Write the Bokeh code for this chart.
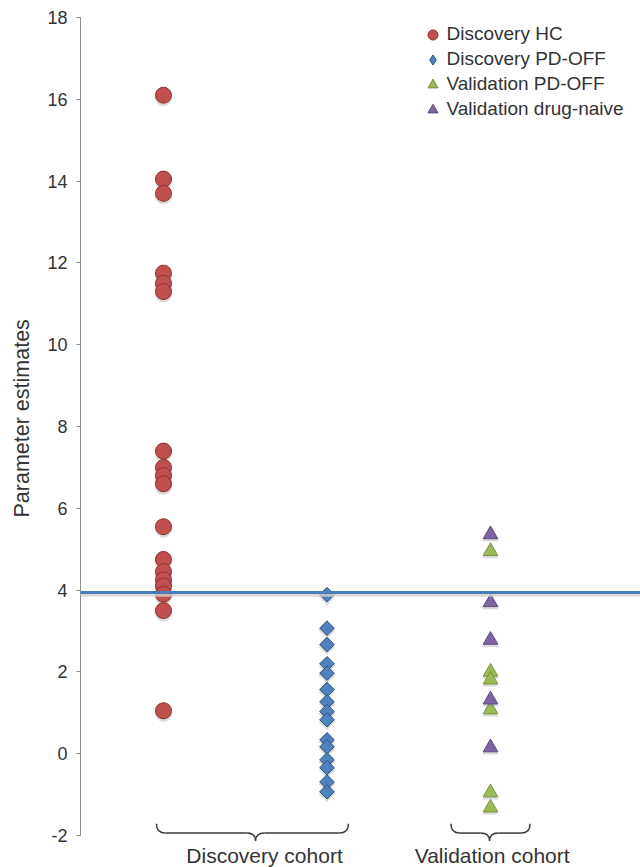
import math
from bokeh.plotting import figure
from bokeh.models import (Range1d, FixedTicker, Span, Title, Legend, LegendItem,
                          ColumnDataSource)
from bokeh.embed import file_html
from bokeh.resources import INLINE
from bokeh.core.properties import value

# ---------------- data ----------------
groups = ["Discovery HC", "Discovery PD-OFF", "Validation PD-OFF", "Validation drug-naive"]
group_x = [1, 2, 3, 3]

discovery_hc = [16.1, 14.05, 13.7, 11.75, 11.5, 11.3, 7.4, 7.0, 6.8, 6.6,
                5.55, 4.75, 4.45, 4.25, 4.1, 3.9, 3.5, 1.05]
discovery_pd_off = [3.89, 3.07, 2.67, 2.2, 1.97, 1.57, 1.27, 1.03, 0.83,
                    0.34, 0.17, -0.15, -0.34, -0.69, -0.93]
validation_pd_off = [4.95, 2.0, 1.81, 1.08, -0.95, -1.32]
validation_naive = [5.36, 3.7, 2.78, 1.32, 0.15]

threshold = 3.94
cohorts = ["Discovery cohort", "Validation cohort"]
y_ticks = [-2, 0, 2, 4, 6, 8, 10, 12, 14, 16, 18]

# ---------------- layout / style ----------------
FONT = "Liberation Sans"
TXT = "#333333"
PX_PER_Y = 40.9          # pixels per y unit
SHADOW_DY = 2.2 / PX_PER_Y

p = figure(width=640, height=867,
           x_range=Range1d(0.4924, 3.9174), y_range=Range1d(-2.782, 18),
           output_backend="svg", toolbar_location=None, x_axis_location=None,
           min_border_left=80, min_border_right=0, min_border_top=17, min_border_bottom=0)
p.outline_line_color = None
p.grid.visible = False
p.background_fill_color = "white"

ax = p.yaxis[0]
ax.ticker = FixedTicker(ticks=y_ticks)
ax.bounds = (min(y_ticks), max(y_ticks))
ax.major_label_overrides = {t: str(t) for t in y_ticks}
ax.axis_line_color = "#8c8c8c"
ax.major_tick_line_color = "#8c8c8c"
ax.major_tick_out = 4
ax.major_tick_in = 0
ax.minor_tick_out = 0
ax.minor_tick_in = 0
ax.major_label_standoff = 9
ax.major_label_text_font = FONT
ax.major_label_text_font_size = "18px"
ax.major_label_text_color = TXT


def src(vals, gx, dy=0.0):
    return ColumnDataSource(dict(x=[gx] * len(vals), y=[v - dy for v in vals]))


series = [
    dict(vals=discovery_hc, gx=group_x[0], marker="circle", size=16, angle=0,
         fill="#c0504d", line="#8a3331"),
    dict(vals=discovery_pd_off, gx=group_x[1], marker="square", size=10.3, angle=math.pi / 4,
         fill="#4f81bd", line="#2c5282"),
    dict(vals=validation_pd_off, gx=group_x[2], marker="triangle", size=14.7, angle=0,
         fill="#9bbb59", line="#76923c"),
    dict(vals=validation_naive, gx=group_x[3], marker="triangle", size=14.7, angle=0,
         fill="#8064a2", line="#5f497a"),
]

main_renderers = []
for s in series:
    # soft drop shadow
    p.scatter(x="x", y="y", source=src(s["vals"], s["gx"], SHADOW_DY), marker=s["marker"],
              size=s["size"] + 1.5, angle=s["angle"], fill_color="#7f7f7f", fill_alpha=0.28,
              line_color=None)
    r = p.scatter(x="x", y="y", source=src(s["vals"], s["gx"]), marker=s["marker"],
                  size=s["size"], angle=s["angle"], fill_color=s["fill"],
                  line_color=s["line"], line_width=1)
    main_renderers.append(r)

# diamond glyph used only for the legend entry
leg_diamond = p.scatter(x="x", y="y", source=src(discovery_pd_off, group_x[1]), marker="diamond",
                        size=10, fill_color="#4f81bd", line_color="#2c5282", line_width=1,
                        visible=False)

# threshold line with shadow
p.add_layout(Span(location=threshold - 2.6 / PX_PER_Y, dimension="width",
                  line_color="#d4d0cc", line_width=3, line_alpha=0.8))
p.add_layout(Span(location=threshold, dimension="width",
                  line_color="#4a7ebb", line_width=3))

# braces under the groups
brace_defs = [(0.957, 2.131, 1.563), (2.758, 3.242, 2.994)]
cohort_label_x = [1.618, 3.01]
b_top, b_mid, b_bot = -1.71, -1.94, -2.13
rx = 0.055
qx0, qy0, qx1, qy1, qcx, qcy = [], [], [], [], [], []
sx0, sy0, sx1, sy1 = [], [], [], []
for L, R, T in brace_defs:
    for (a, b, c, d, e, f) in [
        (L, b_top, L + rx, b_mid, L, b_mid),
        (T - rx, b_mid, T, b_bot, T, b_mid),
        (T, b_bot, T + rx, b_mid, T, b_mid),
        (R - rx, b_mid, R, b_top, R, b_mid),
    ]:
        qx0.append(a); qy0.append(b); qx1.append(c); qy1.append(d); qcx.append(e); qcy.append(f)
    for (a, b) in [(L + rx, T - rx), (T + rx, R - rx)]:
        sx0.append(a); sx1.append(b); sy0.append(b_mid); sy1.append(b_mid)

p.quadratic(x0=qx0, y0=qy0, x1=qx1, y1=qy1, cx=qcx, cy=qcy,
            line_color="#3a3a3a", line_width=1.5)
p.segment(x0=sx0, y0=sy0, x1=sx1, y1=sy1, line_color="#3a3a3a", line_width=1.5)

p.text(x=cohort_label_x, y=[-2.49] * len(cohorts), text=cohorts,
       text_font=value(FONT), text_font_size=value("21px"), text_color=TXT,
       text_align="center", text_baseline="alphabetic")

# y axis title
p.add_layout(Title(text="Parameter estimates", align="left", offset=350, standoff=18,
                   vertical_align="top",
                   text_font=FONT, text_font_size="21.5px", text_font_style="normal",
                   text_color=TXT), "left")

legend = Legend(items=[
    LegendItem(label=groups[0], renderers=[main_renderers[0]]),
    LegendItem(label=groups[1], renderers=[leg_diamond]),
    LegendItem(label=groups[2], renderers=[main_renderers[2]]),
    LegendItem(label=groups[3], renderers=[main_renderers[3]]),
], location=(339.5, 745.5), glyph_width=25, glyph_height=25, spacing=0, padding=0,
    margin=0, label_standoff=2, border_line_color=None, background_fill_alpha=0,
    label_text_font=FONT, label_text_font_size="19px", label_text_color=TXT,
    label_height=25)
p.add_layout(legend)

open("out.html", "w").write(file_html(p, INLINE))
